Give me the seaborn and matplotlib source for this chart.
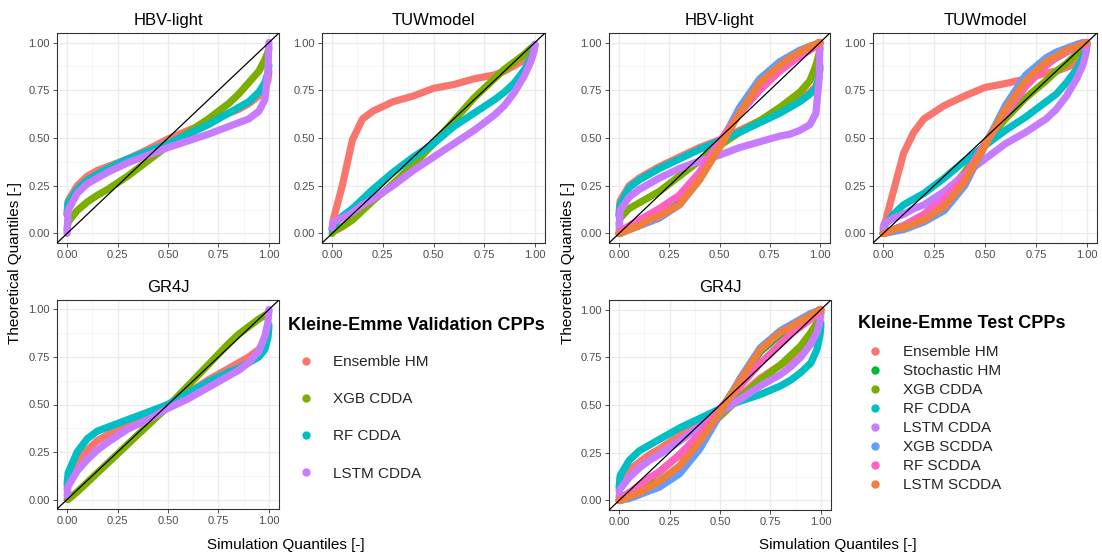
import numpy as np
import pandas as pd
import matplotlib
matplotlib.use("Agg")
import matplotlib.pyplot as plt
import seaborn as sns
from matplotlib.lines import Line2D
from matplotlib.ticker import FixedLocator, FormatStrFormatter

# ---------------- data ----------------
# simulated quantile positions (shared by all curves)
SIM_Q = [0, 0.005, 0.05, 0.1, 0.15, 0.2, 0.3, 0.4, 0.5, 0.6, 0.7, 0.8, 0.85, 0.9, 0.95, 0.98, 0.995, 1.0]

VAL_SERIES = ["Ensemble HM", "XGB CDDA", "RF CDDA", "LSTM CDDA"]
TEST_SERIES = ["Ensemble HM", "Stochastic HM", "XGB CDDA", "RF CDDA", "LSTM CDDA",
               "XGB SCDDA", "RF SCDDA", "LSTM SCDDA"]
PANEL_TITLES = ["HBV-light", "TUWmodel", "GR4J"]

# Validation period
val_hbv = {
    "Ensemble HM": [0.10, 0.17, 0.25, 0.30, 0.33, 0.35, 0.39, 0.44, 0.495, 0.54, 0.58, 0.63, 0.65, 0.68, 0.72, 0.76, 0.80, 0.85],
    "XGB CDDA":    [0.02, 0.06, 0.12, 0.165, 0.20, 0.23, 0.30, 0.38, 0.46, 0.53, 0.60, 0.68, 0.73, 0.79, 0.85, 0.91, 0.95, 0.97],
    "RF CDDA":     [0.10, 0.16, 0.23, 0.28, 0.31, 0.34, 0.39, 0.43, 0.47, 0.52, 0.57, 0.63, 0.66, 0.69, 0.74, 0.79, 0.84, 0.88],
    "LSTM CDDA":   [0.0, 0.12, 0.21, 0.26, 0.29, 0.32, 0.37, 0.41, 0.45, 0.485, 0.52, 0.56, 0.58, 0.60, 0.64, 0.70, 0.85, 1.0],
}
val_tuw = {
    "Ensemble HM": [0.02, 0.07, 0.25, 0.49, 0.60, 0.64, 0.69, 0.72, 0.76, 0.78, 0.81, 0.83, 0.85, 0.88, 0.91, 0.94, 0.96, 0.98],
    "XGB CDDA":    [0.0, 0.01, 0.035, 0.07, 0.12, 0.17, 0.26, 0.36, 0.47, 0.59, 0.71, 0.81, 0.86, 0.90, 0.94, 0.97, 0.98, 0.99],
    "RF CDDA":     [0.02, 0.04, 0.09, 0.13, 0.18, 0.23, 0.32, 0.40, 0.47, 0.56, 0.63, 0.70, 0.74, 0.79, 0.86, 0.92, 0.96, 0.99],
    "LSTM CDDA":   [0.03, 0.06, 0.08, 0.11, 0.15, 0.18, 0.25, 0.33, 0.40, 0.47, 0.54, 0.62, 0.67, 0.74, 0.83, 0.90, 0.95, 0.99],
}
val_gr4j = {
    "Ensemble HM": [0.05, 0.10, 0.20, 0.26, 0.31, 0.34, 0.40, 0.45, 0.50, 0.56, 0.63, 0.69, 0.72, 0.75, 0.79, 0.83, 0.87, 0.90],
    "XGB CDDA":    [0.0, 0.0, 0.04, 0.09, 0.14, 0.19, 0.29, 0.39, 0.49, 0.60, 0.71, 0.82, 0.87, 0.91, 0.95, 0.97, 0.98, 0.99],
    "RF CDDA":     [0.08, 0.14, 0.25, 0.32, 0.36, 0.38, 0.42, 0.46, 0.50, 0.56, 0.62, 0.67, 0.69, 0.72, 0.75, 0.79, 0.85, 0.92],
    "LSTM CDDA":   [0.02, 0.07, 0.15, 0.21, 0.26, 0.30, 0.37, 0.42, 0.48, 0.53, 0.59, 0.65, 0.68, 0.72, 0.78, 0.86, 0.93, 1.0],
}

# Test period
test_hbv = {
    "Ensemble HM":   [0.10, 0.17, 0.25, 0.29, 0.32, 0.35, 0.40, 0.45, 0.49, 0.54, 0.59, 0.64, 0.67, 0.70, 0.74, 0.77, 0.82, 0.86],
    "Stochastic HM": [0.0, 0.0, 0.03, 0.05, 0.07, 0.10, 0.18, 0.31, 0.47, 0.64, 0.78, 0.88, 0.92, 0.95, 0.98, 0.99, 1.0, 1.0],
    "XGB CDDA":      [0.05, 0.08, 0.13, 0.16, 0.19, 0.22, 0.30, 0.38, 0.46, 0.53, 0.59, 0.66, 0.70, 0.74, 0.80, 0.88, 0.94, 0.97],
    "RF CDDA":       [0.09, 0.15, 0.24, 0.28, 0.31, 0.34, 0.39, 0.44, 0.485, 0.53, 0.58, 0.63, 0.66, 0.69, 0.73, 0.76, 0.82, 0.88],
    "LSTM CDDA":     [0.0, 0.12, 0.19, 0.23, 0.26, 0.29, 0.34, 0.38, 0.41, 0.45, 0.48, 0.51, 0.52, 0.54, 0.57, 0.63, 0.80, 1.0],
    "XGB SCDDA":     [0.0, 0.0, 0.02, 0.04, 0.06, 0.08, 0.15, 0.28, 0.46, 0.66, 0.81, 0.90, 0.93, 0.96, 0.98, 0.99, 1.0, 1.0],
    "RF SCDDA":      [0.0, 0.01, 0.04, 0.07, 0.10, 0.13, 0.20, 0.32, 0.48, 0.63, 0.75, 0.85, 0.89, 0.93, 0.96, 0.98, 0.99, 1.0],
    "LSTM SCDDA":    [0.0, 0.0, 0.02, 0.04, 0.07, 0.09, 0.15, 0.28, 0.45, 0.63, 0.79, 0.88, 0.92, 0.95, 0.98, 0.99, 1.0, 1.0],
}
test_tuw = {
    "Ensemble HM":   [0.0, 0.04, 0.22, 0.42, 0.53, 0.60, 0.67, 0.72, 0.765, 0.785, 0.81, 0.84, 0.85, 0.87, 0.89, 0.92, 0.95, 0.98],
    "Stochastic HM": [0.0, 0.0, 0.02, 0.04, 0.06, 0.09, 0.16, 0.29, 0.47, 0.64, 0.78, 0.89, 0.92, 0.95, 0.98, 0.99, 1.0, 1.0],
    "XGB CDDA":      [0.0, 0.0, 0.02, 0.04, 0.07, 0.10, 0.19, 0.32, 0.47, 0.60, 0.71, 0.80, 0.85, 0.89, 0.94, 0.97, 0.98, 0.99],
    "RF CDDA":       [0.02, 0.04, 0.10, 0.15, 0.18, 0.21, 0.29, 0.38, 0.46, 0.54, 0.61, 0.69, 0.73, 0.79, 0.86, 0.92, 0.96, 0.99],
    "LSTM CDDA":     [0.03, 0.05, 0.08, 0.10, 0.13, 0.15, 0.22, 0.31, 0.39, 0.47, 0.53, 0.60, 0.65, 0.72, 0.81, 0.88, 0.94, 0.99],
    "XGB SCDDA":     [0.0, 0.0, 0.01, 0.02, 0.04, 0.06, 0.12, 0.25, 0.46, 0.67, 0.83, 0.92, 0.95, 0.97, 0.99, 1.0, 1.0, 1.0],
    "RF SCDDA":      [0.0, 0.0, 0.02, 0.04, 0.07, 0.10, 0.18, 0.30, 0.47, 0.63, 0.77, 0.88, 0.92, 0.95, 0.98, 0.99, 1.0, 1.0],
    "LSTM SCDDA":    [0.0, 0.0, 0.02, 0.03, 0.05, 0.07, 0.14, 0.27, 0.46, 0.65, 0.80, 0.90, 0.93, 0.96, 0.98, 0.99, 1.0, 1.0],
}
test_gr4j = {
    "Ensemble HM":   [0.05, 0.09, 0.16, 0.20, 0.24, 0.27, 0.34, 0.40, 0.47, 0.55, 0.64, 0.71, 0.74, 0.78, 0.82, 0.85, 0.88, 0.91],
    "Stochastic HM": [0.0, 0.0, 0.02, 0.04, 0.07, 0.10, 0.18, 0.31, 0.47, 0.63, 0.78, 0.87, 0.91, 0.94, 0.97, 0.99, 1.0, 1.0],
    "XGB CDDA":      [0.0, 0.01, 0.04, 0.07, 0.11, 0.15, 0.24, 0.34, 0.44, 0.54, 0.63, 0.71, 0.76, 0.81, 0.88, 0.93, 0.96, 0.98],
    "RF CDDA":       [0.07, 0.13, 0.21, 0.26, 0.29, 0.32, 0.38, 0.43, 0.48, 0.52, 0.555, 0.60, 0.63, 0.67, 0.72, 0.79, 0.86, 0.93],
    "LSTM CDDA":     [0.02, 0.06, 0.12, 0.17, 0.21, 0.24, 0.31, 0.39, 0.46, 0.53, 0.60, 0.66, 0.70, 0.75, 0.82, 0.88, 0.94, 0.99],
    "XGB SCDDA":     [0.0, 0.0, 0.01, 0.03, 0.05, 0.07, 0.14, 0.27, 0.45, 0.64, 0.80, 0.89, 0.92, 0.95, 0.98, 0.99, 1.0, 1.0],
    "RF SCDDA":      [0.0, 0.01, 0.04, 0.08, 0.12, 0.15, 0.24, 0.35, 0.48, 0.60, 0.72, 0.82, 0.87, 0.91, 0.95, 0.98, 0.99, 1.0],
    "LSTM SCDDA":    [0.0, 0.0, 0.02, 0.04, 0.07, 0.10, 0.18, 0.31, 0.46, 0.63, 0.79, 0.88, 0.91, 0.94, 0.97, 0.99, 1.0, 1.0],
}

TICKS = [0.0, 0.25, 0.5, 0.75, 1.0]
MINOR = [0.125, 0.375, 0.625, 0.875]

PALETTE = {
    "Ensemble HM": "#F8766D",
    "Stochastic HM": "#00BA38",
    "XGB CDDA": "#7CAE00",
    "RF CDDA": "#00BFC4",
    "LSTM CDDA": "#C77CFF",
    "XGB SCDDA": "#619CFF",
    "RF SCDDA": "#FF61C3",
    "LSTM SCDDA": "#F07F3C",
}

# ---------------- figure ----------------
sns.set_theme(style="white")
plt.rcParams["font.family"] = ["Liberation Sans", "DejaVu Sans"]

W, H = 1102, 557
fig = plt.figure(figsize=(W / 100, H / 100), dpi=100)
fig.patch.set_facecolor("white")


def px_axes(l, t, r, b):
    return fig.add_axes([l / W, 1 - b / H, (r - l) / W, (b - t) / H])


def draw_panel(ax, data, order, title):
    df = pd.DataFrame(
        [(q, v, s) for s in order for q, v in zip(SIM_Q, data[s])],
        columns=["sim", "theo", "series"],
    )
    sns.lineplot(data=df, x="sim", y="theo", hue="series", hue_order=order,
                 palette=PALETTE, sort=False, estimator=None, linewidth=5.2,
                 legend=False, ax=ax, solid_capstyle="round",
                 solid_joinstyle="round")
    ax.axline((0, 0), (1, 1), color="black", lw=0.9, zorder=10)
    ax.set_xlim(-0.05, 1.05)
    ax.set_ylim(-0.05, 1.05)
    for axis in (ax.xaxis, ax.yaxis):
        axis.set_major_locator(FixedLocator(TICKS))
        axis.set_minor_locator(FixedLocator(MINOR))
        axis.set_major_formatter(FormatStrFormatter("%.2f"))
    ax.grid(which="major", color="#EBEBEB", lw=0.9, zorder=0)
    ax.grid(which="minor", color="#F2F2F2", lw=0.45, zorder=0)
    ax.set_axisbelow(True)
    ax.tick_params(which="major", length=3, width=0.6, color="#333333",
                   labelsize=8, labelcolor="#4D4D4D", pad=2,
                   bottom=True, left=True)
    ax.tick_params(which="minor", length=0)
    for sp in ax.spines.values():
        sp.set_color("#333333")
        sp.set_linewidth(0.8)
    ax.set_xlabel("")
    ax.set_ylabel("")
    ax.set_title(title, fontsize=12, pad=6, color="black")


# left group: validation
ax1 = px_axes(57, 33, 279, 243)
ax2 = px_axes(322, 33, 545, 243)
ax3 = px_axes(57, 300, 279, 509)
for ax, d, t in zip([ax1, ax2, ax3], [val_hbv, val_tuw, val_gr4j], PANEL_TITLES):
    draw_panel(ax, d, VAL_SERIES, t)

# right group: test
ax4 = px_axes(609, 33, 830, 243)
ax5 = px_axes(873, 33, 1097, 243)
ax6 = px_axes(609, 300, 831, 510)
for ax, d, t in zip([ax4, ax5, ax6], [test_hbv, test_tuw, test_gr4j], PANEL_TITLES):
    draw_panel(ax, d, TEST_SERIES, t)

# axis labels
for xc in (15, 568):
    fig.text(xc / W, 1 - 263 / H, "Theoretical Quantiles [-]", rotation=90,
             ha="center", va="center", fontsize=11, color="black")
for xc in (286, 838):
    fig.text(xc / W, 1 - 545 / H, "Simulation Quantiles [-]",
             ha="center", va="center", fontsize=11, color="black")

# legends
def make_handles(order):
    return [Line2D([], [], marker="o", linestyle="", markersize=5,
                   color=PALETTE[s]) for s in order]

fig.text(288 / W, 1 - 325 / H, "Kleine-Emme Validation CPPs", ha="left",
         va="center", fontsize=13, fontweight="bold", color="black")
fig.legend(make_handles(VAL_SERIES), VAL_SERIES,
           loc="upper left", bbox_to_anchor=(288 / W, 1 - 355 / H),
           frameon=False, fontsize=11,
           labelspacing=1.52, handlelength=2.35, handletextpad=0.6,
           borderpad=0, borderaxespad=0)

fig.text(858 / W, 1 - 323 / H, "Kleine-Emme Test CPPs", ha="left",
         va="center", fontsize=13, fontweight="bold", color="black")
fig.legend(make_handles(TEST_SERIES), TEST_SERIES,
           loc="upper left", bbox_to_anchor=(858 / W, 1 - 345 / H),
           frameon=False, fontsize=11,
           labelspacing=0.33, handlelength=2.2, handletextpad=0.72,
           borderpad=0, borderaxespad=0)

fig.savefig("out.png", dpi=100, facecolor="white")
